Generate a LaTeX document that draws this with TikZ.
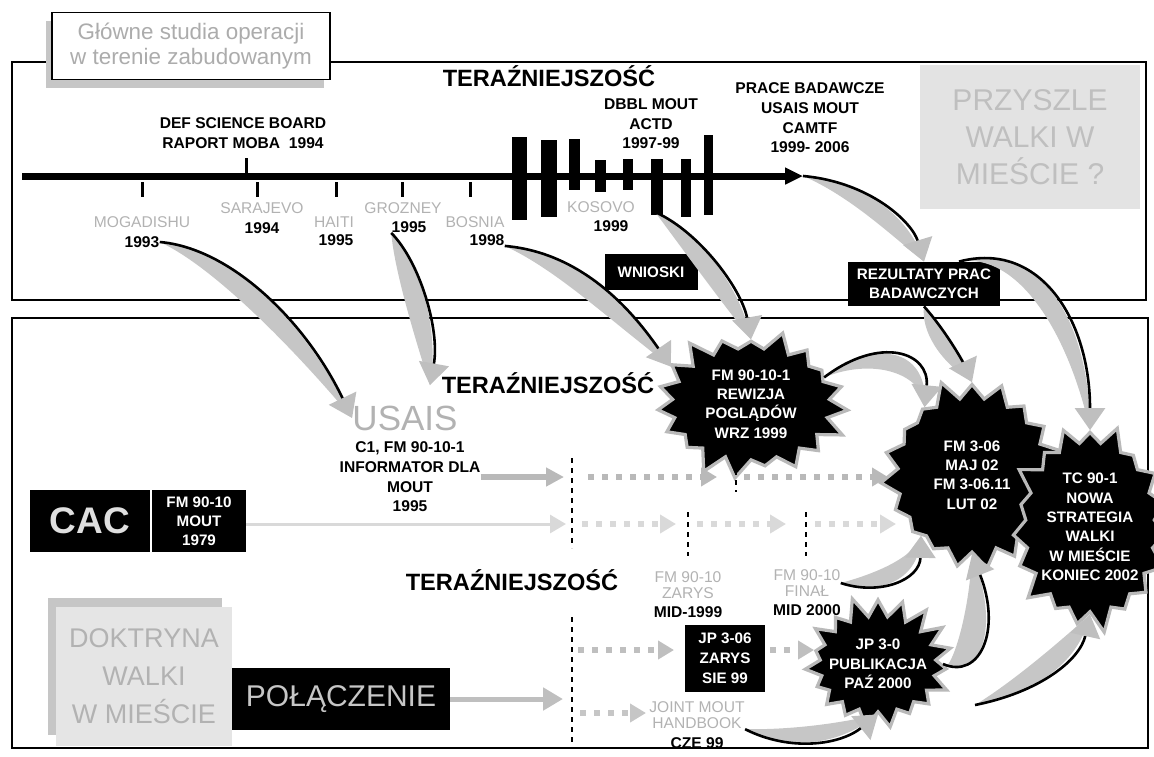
\documentclass[tikz,border=0pt]{standalone}
\usepackage{fontspec}
\setmainfont{Liberation Sans}
\usetikzlibrary{positioning,calc,arrows.meta,shapes.symbols,shadows}

% sierp: szara strzalka lukowa z czarna krawedzia
\newcommand{\sierp}[5]{%
  \fill[sierpfill] #1 .. controls #2 and #3 .. #4
    .. controls ($#3+#5$) and ($#2+#5$) .. #1;
  \draw[sierpedge] #1 .. controls #2 and #3 .. #4;
}

\begin{document}
\begin{tikzpicture}[x=0.5pt,y=-0.5pt,
    ramka/.style={line width=0.9pt},
    tytulbox/.style={draw,line width=0.9pt,fill=white,minimum width=139pt,minimum height=33.5pt,
      text=gray!65,font=\fontsize{11.2}{12.5}\selectfont,align=center,
      drop shadow={shadow xshift=-3pt,shadow yshift=-4pt,fill=gray!45,opacity=1}},
    lbl/.style={font=\fontsize{7.8}{9.8}\selectfont\bfseries,align=center,inner sep=0pt},
    rok/.style={font=\fontsize{7.8}{9.6}\selectfont\bfseries,inner sep=0pt},
    miejsce/.style={font=\fontsize{7.8}{8.2}\selectfont,text=gray!60,align=center,inner sep=0pt},
    teraz/.style={font=\fontsize{11.8}{14}\selectfont\bfseries,inner sep=0pt},
    czarny/.style={fill=black,text=white,font=\fontsize{7.6}{9.4}\selectfont\bfseries,align=center,inner sep=0pt},
    gwiazda/.style={starburst,starburst points=19,starburst point height=11pt,fill=black,draw=gray!55,
      line width=1.6pt,text=white,font=\fontsize{7.6}{9.7}\selectfont\bfseries,align=center,inner sep=0pt},
    kreska/.style={line width=0.7pt,dash pattern=on 2.5pt off 2.5pt},
    kropki/.style={line width=3pt,dash pattern=on 3pt off 4pt,-{Triangle[length=8pt,width=9pt]}},
    sierpfill/.style={fill=gray!45},
    sierpedge/.style={line width=1.3pt,-{Triangle[length=11pt,width=15pt,color=gray!50]}},
  ]
  \useasboundingbox (0,0) rectangle (1154,756);

  % ramki
  \draw[ramka] (12,62) rectangle (1146,300);
  \draw[ramka] (12,318) rectangle (1148,748);

  % tytul
  \node[tytulbox] (tytul) at (191,46) {Główne studia operacji\\w terenie zabudowanym};

  % gorna czesc
  \node[teraz] (ter1) at (549,76) {TERAŹNIEJSZOŚĆ};
  \node[lbl] (dsb) at (243,133) {DEF SCIENCE BOARD\\RAPORT MOBA\ \ 1994};
  \node[lbl] (dbbl) at (651,124) {DBBL MOUT\\ACTD\\1997-99};
  \node[lbl] (prace) at (810,118) {PRACE BADAWCZE\\USAIS MOUT\\CAMTF\\1999- 2006};
  \node[fill=gray!22,minimum width=110pt,minimum height=72pt,text=gray!50,
    font=\fontsize{15}{18.5}\selectfont,align=center] (przysz) at (1030,137) {PRZYSZLE\\WALKI W\\MIEŚCIE ?};

  % os czasu
  \coordinate (osA) at (22,176);
  \coordinate (osB) at (803,176);
  \draw[line width=3.5pt,-{Triangle[length=9pt,width=8pt]}] (osA) -- (osB);
  \draw[line width=1.5pt] (246,158) -- (246,176);
  \foreach \x in {142,257,336,402,470} { \draw[line width=1.5pt] (\x,182) -- (\x,197); }

  % slupki
  \foreach \xa/\xb/\ya/\yb in {512/527/137/220,541/557/140/217,569/580/139/190,595/606/160/192,
      623/633/159/190,651/663/159/215,681/691/159/217,704/713/135/215} {
    \fill (\xa,\ya) rectangle (\xb,\yb);
  }

  % miejsca i lata
  \foreach \n/\x/\y/\t in {mog/142/222/MOGADISHU,sar/262/208/SARAJEVO,hai/334/222/HAITI,
      gro/403/208/GROZNEY,bos/475/222/BOSNIA,kos/601/207/KOSOVO} {
    \node[miejsce] (\n) at (\x,\y) {\t};
  }
  \foreach \n/\x/\y/\t in {r93/142/242/1993,r94/262/228/1994,r95h/336/240/1995,
      r95g/409/227/1995,r98/487/240/1998,r99/611/226/1999} {
    \node[rok] (\n) at (\x,\y) {\t};
  }

  \node[czarny,minimum width=46.5pt,minimum height=18pt] (wnioski) at (651,272) {WNIOSKI};
  \node[czarny,minimum width=76pt,minimum height=22pt] (rez) at (924,284) {REZULTATY PRAC\\BADAWCZYCH};

  % dolna czesc
  \node[teraz] (ter2) at (548,383) {TERAŹNIEJSZOŚĆ};
  \node[teraz] (ter3) at (512,580) {TERAŹNIEJSZOŚĆ};
  \node[font=\fontsize{17.5}{20}\selectfont,text=gray!60,inner sep=0pt] (usais) at (405,418) {USAIS};
  \node[lbl] (usaisTxt) at (410,477) {C1, FM 90-10-1\\INFORMATOR DLA\\MOUT\\1995};

  \node[czarny,minimum width=60pt,minimum height=31pt,text=gray!25,
    font=\fontsize{18.5}{20}\selectfont\bfseries] (cac) at (90,521) {CAC};
  \node[czarny,minimum width=47pt,minimum height=31pt,right=0.6pt of cac] (fm9010) {FM 90-10\\MOUT\\1979};

  \fill[gray!45] (48,598) rectangle (222,735);
  \node[fill=gray!20,minimum width=88pt,minimum height=69.5pt,text=gray!60,
    font=\fontsize{13.5}{19}\selectfont,align=center] (doktr) at (144,676) {DOKTRYNA\\WALKI\\W MIEŚCIE};
  \node[czarny,minimum width=109pt,minimum height=31pt,text=gray!45,
    font=\fontsize{15}{17}\selectfont] (polacz) at (341,699) {POŁĄCZENIE};

  \node[miejsce] (fmz) at (688,585) {FM 90-10\\ZARYS};
  \node[rok] (mid99) at (688,612) {MID-1999};
  \node[miejsce] (fmf) at (807,583) {FM 90-10\\FINAŁ};
  \node[rok] (mid00) at (807,610) {MID 2000};
  \node[czarny,minimum width=40pt,minimum height=33.5pt,font=\fontsize{7.6}{10}\selectfont\bfseries] (jp306) at (725,658) {JP 3-06\\ZARYS\\SIE 99};
  \node[miejsce] (joint) at (697,715) {JOINT MOUT\\HANDBOOK};
  \node[rok] (cze) at (697,743) {CZE 99};

  % gwiazdy
  \node[gwiazda,inner xsep=5pt,inner ysep=2.5pt,random starburst=3] (starA) at (751,404) {FM 90-10-1\\REWIZJA\\POGLĄDÓW\\WRZ 1999};
  \node[gwiazda,inner xsep=7pt,inner ysep=10pt,random starburst=5] (starB) at (972,475) {FM 3-06\\MAJ 02\\FM 3-06.11\\LUT 02};
  \node[gwiazda,inner xsep=-1.5pt,inner ysep=3pt,random starburst=9] (starC) at (1090,527) {TC 90-1\\NOWA\\STRATEGIA\\WALKI\\W MIEŚCIE\\KONIEC 2002};
  \node[gwiazda,inner xsep=-4pt,inner ysep=4.5pt,random starburst=11] (starD) at (878,664) {JP 3-0\\PUBLIKACJA\\PAŹ 2000};

  % punkty strzalek
  \foreach \n/\x/\y in {k1/564/477,a1/588/477,a2/717/477,a3/744/477,a4/888/477,
      k2/566/524,b1/582/524,b2/676/524,b3/697/524,b4/786/524,b5/815/524,b6/896/524,
      c1/578/650,c2/674/650,c3/770/650,c4/814/650,d1/580/713,d2/646/713,k4/563/699,
      kosA/655/212,dPrawo/975/705} {
    \coordinate (\n) at (\x,\y);
  }

  % linie przerywane
  \draw[kreska] (572,458) -- (572,548);
  \draw[kreska] (572,617) -- (572,742);
  \draw[kreska] (736,460) -- (736,492);
  \draw[kreska] (688,512) -- (688,556);
  \draw[kreska] (806,512) -- (806,556);

  % wiersze
  \draw[line width=3pt,gray!55,-{Triangle[length=9pt,width=9pt]}] (usaisTxt.east |- k1) -- (k1);
  \draw[kropki,gray!55] (a1) -- (a2);
  \draw[kropki,gray!55] (a3) -- (a4);
  \draw[line width=1.5pt,gray!30,-{Triangle[length=8pt,width=9pt]}] (fm9010.east |- k2) -- (k2);
  \draw[kropki,gray!30] (b1) -- (b2);
  \draw[kropki,gray!30] (b3) -- (b4);
  \draw[kropki,gray!30] (b5) -- (b6);
  \draw[kropki,gray!50] (c1) -- (c2);
  \draw[kropki,gray!50] (c3) -- (c4);
  \draw[kropki,gray!45] (d1) -- (d2);
  \draw[line width=2.5pt,gray!50,-{Triangle[length=10pt,width=11pt]}] (polacz.east) -- (k4);

  % strzalki lukowe
  \sierp{(r93.east)}{(230,248)}{(305,320)}{(usais.west)}{(-22,16)}
  \sierp{(r95g.south west)}{(420,262)}{(440,330)}{($(usais.north)+(25,-20)$)}{(-26,6)}
  \sierp{(r98.south east)}{(575,252)}{(625,300)}{(starA.155)}{(-18,18)}
  \sierp{(kosA)}{(700,232)}{(742,290)}{(starA.north)}{(-24,8)}
  \sierp{(osB)}{(870,182)}{(912,222)}{(rez.north)}{(-20,14)}
  \sierp{(rez.south)}{(945,330)}{(962,360)}{(starB.north)}{(-24,0)}
  \sierp{($(rez.north)+(35,0)$)}{(1040,240)}{(1090,320)}{(starC.north)}{(-22,12)}
  \sierp{(starA.20)}{(880,335)}{(930,352)}{(starB.125)}{(-6,22)}
  \sierp{(fmf.east)}{(880,596)}{(920,580)}{(starB.230)}{(-6,-22)}
  \sierp{(joint.south east)}{(790,752)}{(840,745)}{(starD.south)}{(2,-22)}
  \sierp{(starD.east)}{(980,680)}{(1002,630)}{(starB.south)}{(-34,0)}
  \sierp{(dPrawo)}{(1040,692)}{(1080,660)}{(starC.south)}{(-34,-6)}
\end{tikzpicture}
\end{document}
